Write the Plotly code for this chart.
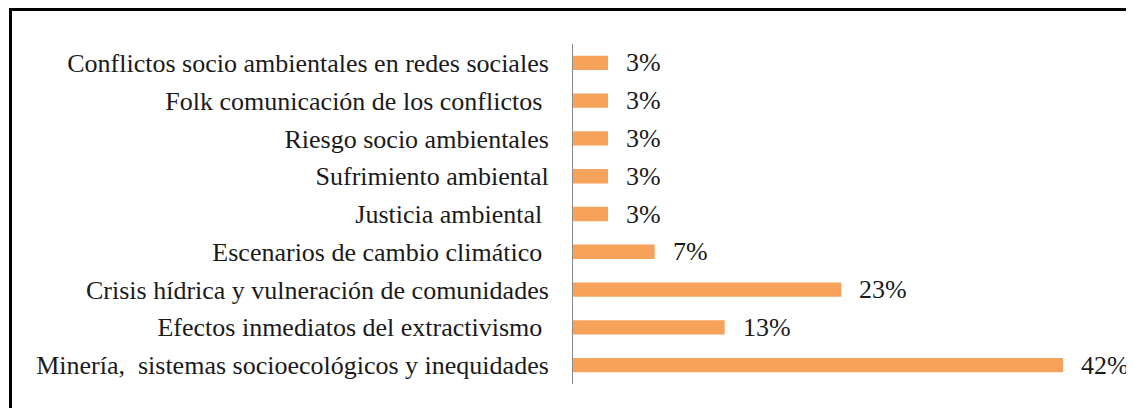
import plotly.graph_objects as go

categories = [
    "Conflictos socio ambientales en redes sociales",
    "Folk comunicación de los conflictos ",
    "Riesgo socio ambientales",
    "Sufrimiento ambiental",
    "Justicia ambiental ",
    "Escenarios de cambio climático ",
    "Crisis hídrica y vulneración de comunidades",
    "Efectos inmediatos del extractivismo ",
    "Minería,  sistemas socioecológicos y inequidades",
]
values = [3, 3, 3, 3, 3, 7, 23, 13, 42]
value_labels = [f"{v}%" for v in values]

# page body has an 8px offset, so the figure is drawn from (8, 8)
OFF = 8
W, H = 1134 - OFF, 408 - OFF
ML, MR, MT, MB = 573 - OFF, 1, 44 - OFF, 24
PW, PH = W - ML - MR, H - MT - MB

def px_x(x):
    return (x - OFF - ML) / PW

def px_y(y):
    return 1 - (y - OFF - MT) / PH

BAR = "#F6A25A"
FONT = "Liberation Serif"
FS = 26

fig = go.Figure()
fig.add_trace(go.Bar(
    x=values, y=categories, orientation="h",
    marker=dict(color=BAR, line=dict(width=0)),
    hoverinfo="skip",
))

for c, v, t in zip(categories, values, value_labels):
    fig.add_annotation(x=v, y=c, text=t, showarrow=False, xanchor="left",
                       xshift=16, font=dict(family=FONT, size=FS, color="#1a1a1a"))

fig.update_layout(
    width=W, height=H,
    margin=dict(l=ML, r=MR, t=MT, b=MB, pad=0),
    paper_bgcolor="white", plot_bgcolor="white",
    showlegend=False, bargap=0.62,
    font=dict(family=FONT, size=FS, color="#1a1a1a"),
    xaxis=dict(range=[0, 48], visible=False, fixedrange=True),
    yaxis=dict(autorange="reversed", showgrid=False, zeroline=False,
               showline=True, linecolor="#8a8a8a", linewidth=1,
               ticks="", ticklabelstandoff=18,
               tickfont=dict(family=FONT, size=FS, color="#1a1a1a")),
    shapes=[
        dict(type="line", xref="paper", yref="paper",
             x0=px_x(9), x1=px_x(1134), y0=px_y(9.5), y1=px_y(9.5),
             line=dict(color="black", width=3)),
        dict(type="line", xref="paper", yref="paper",
             x0=px_x(10.5), x1=px_x(10.5), y0=px_y(8), y1=px_y(408),
             line=dict(color="black", width=3)),
        dict(type="line", xref="paper", yref="paper",
             x0=px_x(1132.5), x1=px_x(1132.5), y0=px_y(11), y1=px_y(408),
             line=dict(color="#b0b0b0", width=1)),
    ],
)

fig.write_html("out.html")
